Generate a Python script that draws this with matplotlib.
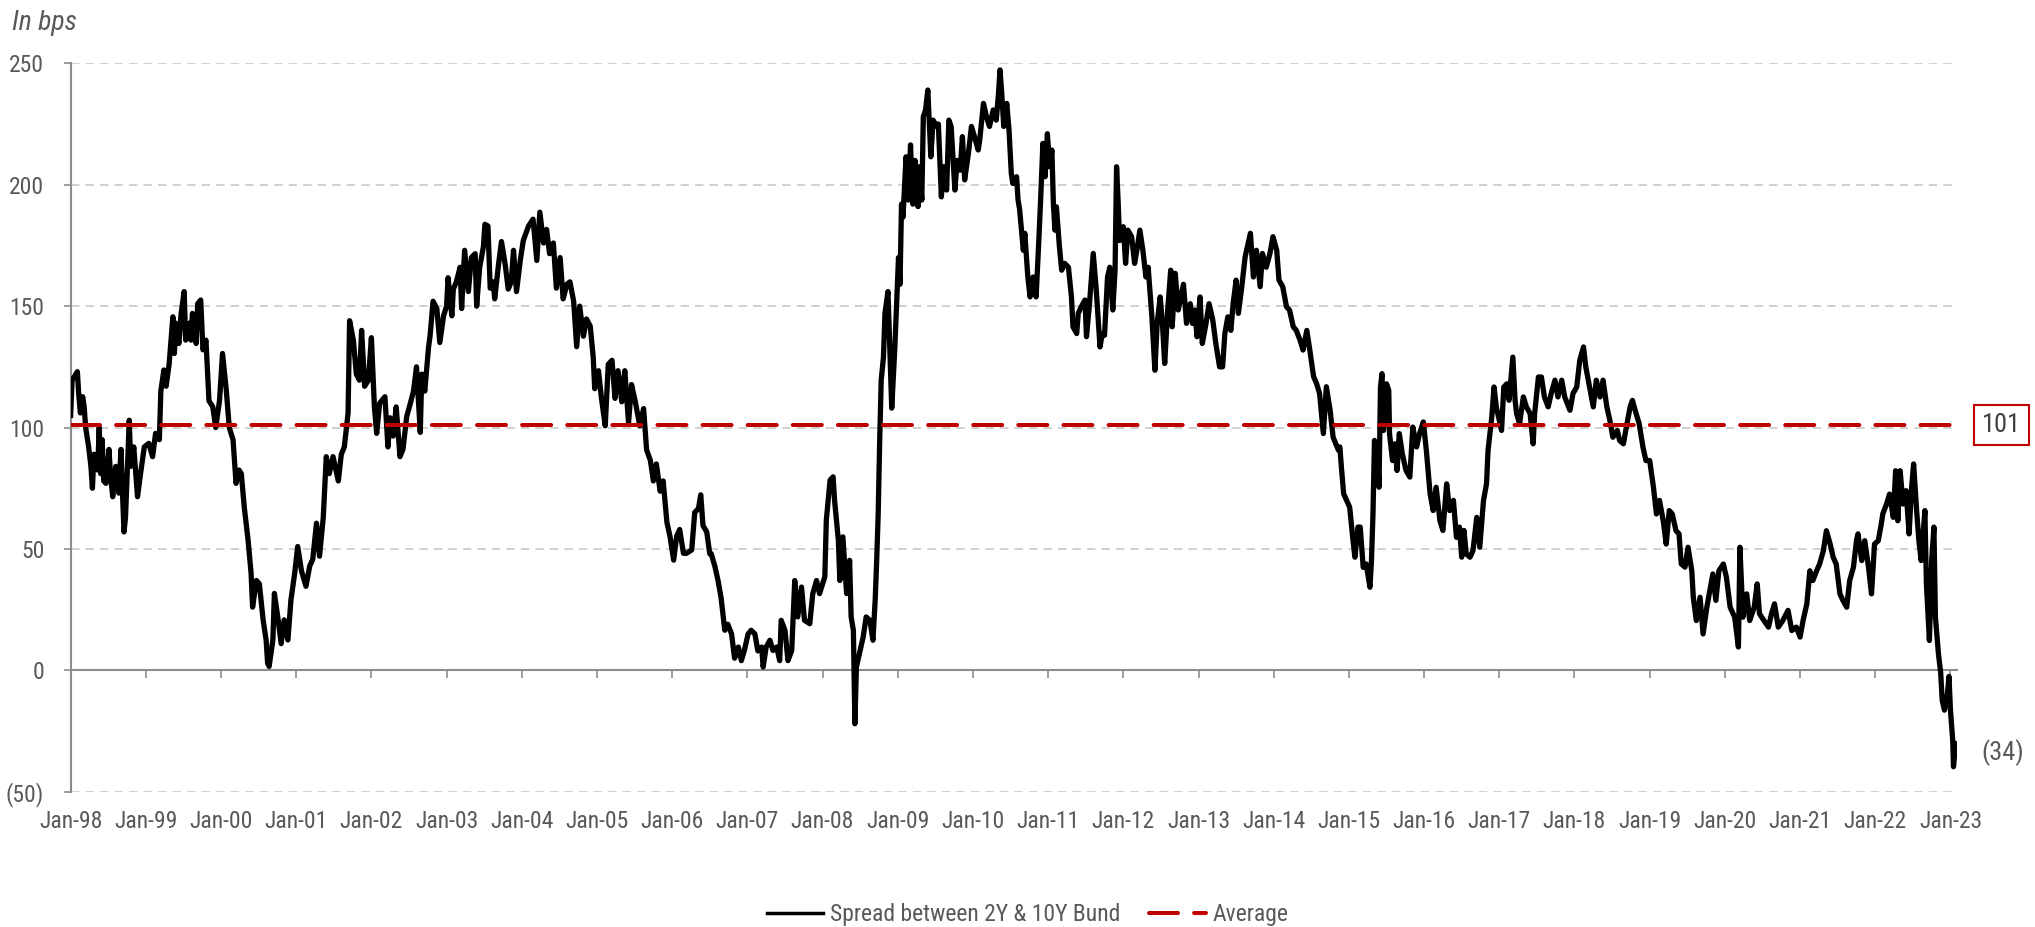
import numpy as np
import matplotlib.pyplot as plt
from matplotlib import font_manager
from matplotlib.lines import Line2D
from matplotlib.ticker import FuncFormatter

# narrow face if one is installed, otherwise a regular sans at a smaller size
font_names = {(f.name, f.stretch) for f in font_manager.fontManager.ttflist}
names = {n for n, s in font_names}
scale = 1.0
stretch = 'normal'
if 'Ubuntu Condensed' in names:
    family = 'Ubuntu Condensed'
elif 'Roboto Condensed' in names:
    family = 'Roboto Condensed'
elif 'Liberation Sans Narrow' in names:
    family = 'Liberation Sans Narrow'
elif ('DejaVu Sans', 'condensed') in font_names or ('DejaVu Sans', 'semi-condensed') in font_names:
    family = 'DejaVu Sans'
    stretch = 'condensed'
    scale = 0.9
else:
    family = 'Roboto'
    scale = 0.82
plt.rcParams['font.family'] = [family, 'DejaVu Sans']
plt.rcParams['font.stretch'] = stretch

# spread 2Y vs 10Y Bund, bps, x in decimal years
years = [
    1998.00, 1998.02, 1998.07, 1998.09, 1998.11, 1998.13, 1998.16, 1998.18, 1998.20, 1998.24,
    1998.27, 1998.29, 1998.31, 1998.36, 1998.38, 1998.40, 1998.42, 1998.44, 1998.47, 1998.51,
    1998.53, 1998.56, 1998.60, 1998.64, 1998.67, 1998.69, 1998.71, 1998.73, 1998.78, 1998.80,
    1998.84, 1998.89, 1998.93, 1998.98, 1999.04, 1999.09, 1999.13, 1999.18, 1999.20, 1999.24,
    1999.27, 1999.31, 1999.36, 1999.38, 1999.40, 1999.44, 1999.47, 1999.51, 1999.53, 1999.58,
    1999.60, 1999.62, 1999.67, 1999.69, 1999.73, 1999.76, 1999.80, 1999.84, 1999.89, 1999.93,
    1999.98, 2000.02, 2000.07, 2000.11, 2000.16, 2000.20, 2000.24, 2000.27, 2000.31, 2000.36,
    2000.40, 2000.42, 2000.47, 2000.51, 2000.56, 2000.60, 2000.62, 2000.64, 2000.69, 2000.71,
    2000.76, 2000.80, 2000.84, 2000.89, 2000.93, 2000.98, 2001.02, 2001.07, 2001.13, 2001.18,
    2001.22, 2001.27, 2001.31, 2001.36, 2001.40, 2001.44, 2001.49, 2001.56, 2001.60, 2001.64,
    2001.69, 2001.71, 2001.76, 2001.80, 2001.84, 2001.87, 2001.91, 2001.96, 2002.00, 2002.04,
    2002.07, 2002.11, 2002.18, 2002.22,
    2002.25, 2002.29, 2002.33, 2002.38, 2002.42, 2002.47, 2002.51, 2002.56, 2002.60, 2002.65,
    2002.67, 2002.71, 2002.76, 2002.78, 2002.82, 2002.87, 2002.91, 2002.96, 2003.00, 2003.02,
    2003.07, 2003.09, 2003.13, 2003.18, 2003.20, 2003.24, 2003.29, 2003.33, 2003.38, 2003.40,
    2003.44, 2003.49, 2003.51, 2003.55, 2003.58, 2003.62, 2003.64, 2003.69, 2003.73, 2003.78,
    2003.82, 2003.86, 2003.89, 2003.93, 2003.98, 2004.02, 2004.09, 2004.15, 2004.20, 2004.24,
    2004.29, 2004.33, 2004.37, 2004.42, 2004.46, 2004.51, 2004.55, 2004.60, 2004.64, 2004.69,
    2004.73, 2004.77, 2004.82, 2004.86, 2004.91, 2004.95, 2004.97, 2005.02, 2005.06, 2005.11,
    2005.15, 2005.20, 2005.24, 2005.28, 2005.33, 2005.37, 2005.42, 2005.46, 2005.51, 2005.57,
    2005.62, 2005.66, 2005.71, 2005.75, 2005.79, 2005.84, 2005.88, 2005.93, 2005.97, 2006.02,
    2006.06, 2006.10, 2006.15, 2006.19, 2006.26, 2006.30, 2006.35, 2006.38, 2006.41, 2006.46,
    2006.50,
    2006.52, 2006.57, 2006.61, 2006.65, 2006.70, 2006.74, 2006.79, 2006.83, 2006.88, 2006.92,
    2006.96, 2007.01, 2007.05, 2007.10, 2007.14, 2007.19, 2007.21, 2007.25, 2007.30, 2007.34,
    2007.39, 2007.43, 2007.45, 2007.50, 2007.54, 2007.59, 2007.63, 2007.67, 2007.72, 2007.76,
    2007.83, 2007.87, 2007.92, 2007.96, 2008.03, 2008.05, 2008.10, 2008.14, 2008.16, 2008.21,
    2008.23, 2008.27, 2008.32, 2008.36, 2008.38, 2008.41, 2008.43, 2008.45, 2008.50, 2008.54,
    2008.58, 2008.63, 2008.67, 2008.70, 2008.72, 2008.74, 2008.76, 2008.78, 2008.81, 2008.83,
    2008.87, 2008.92, 2008.96, 2009.01, 2009.03, 2009.05, 2009.07, 2009.11, 2009.14, 2009.17,
    2009.20, 2009.23, 2009.27, 2009.29, 2009.32, 2009.34, 2009.37, 2009.40, 2009.44, 2009.47,
    2009.52, 2009.54, 2009.58, 2009.61, 2009.65, 2009.68, 2009.71, 2009.76, 2009.79, 2009.83,
    2009.86, 2009.89, 2009.94, 2009.98, 2010.02, 2010.07, 2010.09, 2010.14, 2010.18, 2010.22,
    2010.27, 2010.31, 2010.34, 2010.36, 2010.38, 2010.41, 2010.45, 2010.48, 2010.51, 2010.53,
    2010.58, 2010.60,
    2010.62, 2010.67, 2010.69, 2010.73, 2010.76, 2010.80, 2010.84, 2010.87, 2010.90, 2010.93,
    2010.96, 2010.99, 2011.02, 2011.05, 2011.07, 2011.09, 2011.11, 2011.15, 2011.18, 2011.22,
    2011.27, 2011.31, 2011.33, 2011.38, 2011.40, 2011.44, 2011.49, 2011.51, 2011.55, 2011.60,
    2011.64, 2011.69, 2011.72, 2011.75, 2011.79, 2011.82, 2011.86, 2011.89, 2011.91, 2011.93,
    2011.95, 2012.00, 2012.03, 2012.06, 2012.11, 2012.15, 2012.18, 2012.22, 2012.26, 2012.30,
    2012.33, 2012.38, 2012.42, 2012.45, 2012.49, 2012.52, 2012.55, 2012.59, 2012.63, 2012.65,
    2012.69, 2012.73, 2012.80, 2012.84, 2012.89, 2012.92, 2012.95, 2012.98, 2013.02, 2013.05,
    2013.10, 2013.14, 2013.19, 2013.23, 2013.28, 2013.32, 2013.35, 2013.39, 2013.43, 2013.46,
    2013.50, 2013.53, 2013.57, 2013.62, 2013.66, 2013.69, 2013.73, 2013.77, 2013.82, 2013.85,
    2013.90, 2013.95, 2013.99, 2014.04, 2014.07, 2014.12, 2014.17, 2014.21, 2014.26, 2014.30,
    2014.35, 2014.39, 2014.44, 2014.48, 2014.53, 2014.57, 2014.61, 2014.66, 2014.70, 2014.75,
    2014.79, 2014.86,
    2014.88, 2014.90, 2014.93, 2014.97, 2015.01, 2015.05, 2015.08, 2015.12, 2015.15, 2015.19,
    2015.23, 2015.28, 2015.30, 2015.32, 2015.34, 2015.38, 2015.40, 2015.42, 2015.44, 2015.46,
    2015.50, 2015.53, 2015.54, 2015.58, 2015.61, 2015.64, 2015.67, 2015.71, 2015.76, 2015.81,
    2015.85, 2015.90, 2015.94, 2015.99, 2016.03, 2016.08, 2016.12, 2016.16, 2016.21, 2016.25,
    2016.30, 2016.34, 2016.39, 2016.43, 2016.47, 2016.50, 2016.53, 2016.56, 2016.61, 2016.65,
    2016.70, 2016.74, 2016.79, 2016.83, 2016.85, 2016.90, 2016.93, 2016.96, 2017.00, 2017.03,
    2017.06, 2017.10, 2017.13, 2017.18, 2017.21, 2017.23, 2017.27, 2017.32, 2017.36, 2017.41,
    2017.45, 2017.47, 2017.52, 2017.56, 2017.60, 2017.65, 2017.69, 2017.74, 2017.78, 2017.83,
    2017.87, 2017.94, 2017.98, 2018.03, 2018.07, 2018.12, 2018.15, 2018.20, 2018.25, 2018.29,
    2018.34, 2018.38, 2018.43, 2018.47, 2018.51, 2018.57, 2018.60, 2018.65, 2018.69, 2018.74,
    2018.77, 2018.82, 2018.86, 2018.91, 2018.95, 2019.00, 2019.05, 2019.09,
    2019.13, 2019.18, 2019.22, 2019.26, 2019.30, 2019.35, 2019.39, 2019.42, 2019.47, 2019.51,
    2019.56, 2019.58, 2019.62, 2019.67, 2019.71, 2019.76, 2019.80, 2019.84, 2019.88, 2019.92,
    2019.98, 2020.02, 2020.07, 2020.13, 2020.18, 2020.20, 2020.24, 2020.29, 2020.33, 2020.39,
    2020.43, 2020.46, 2020.52, 2020.58, 2020.62, 2020.66, 2020.71, 2020.77, 2020.84, 2020.89,
    2020.95, 2021.00, 2021.04, 2021.09, 2021.13, 2021.17, 2021.22, 2021.26, 2021.31, 2021.35,
    2021.40, 2021.44, 2021.48, 2021.53, 2021.57, 2021.62, 2021.66, 2021.71, 2021.75, 2021.77,
    2021.82, 2021.86, 2021.91, 2021.95, 2021.99, 2022.04, 2022.08, 2022.10, 2022.15, 2022.19,
    2022.24, 2022.27, 2022.30, 2022.33, 2022.37, 2022.41, 2022.45, 2022.48, 2022.51, 2022.55,
    2022.58, 2022.61, 2022.66, 2022.68, 2022.72, 2022.75, 2022.78, 2022.80, 2022.84, 2022.87,
    2022.89, 2022.92, 2022.96, 2022.98, 2023.00, 2023.03, 2023.04, 2023.07, 2023.09,
]
spread = [
    105, 119.5, 122, 123, 112.7, 106, 112.7, 108.6, 100, 92,
    84, 75, 89, 82.5, 100, 81, 95, 78, 77, 91,
    81, 71.5, 84, 73, 91, 73, 57, 63, 103, 84,
    92, 71.5, 81, 92, 93.5, 88, 97.6, 95, 115, 123.7,
    117, 126, 145.6, 130.5, 143, 134.6, 147, 156, 136, 143,
    136, 147, 134.6, 151, 152.5, 132, 136, 111, 108.6, 100,
    111, 130.5, 115.4, 100, 95, 77, 82.5, 81, 67, 53.7,
    40, 26, 37, 35.6, 20.8, 12.5, 3, 1.6, 12.5, 31.7,
    20.8, 11, 20.8, 12.5, 29, 40, 51, 41, 34.6, 43,
    45.7, 60.6, 47, 63, 88, 81, 88, 78, 89, 92,
    106, 144, 136, 122, 119.5, 140, 117, 119.5, 137, 108.6,
    97.6, 110, 112.7, 92,
    104, 96.5, 108.5, 88, 91, 104.6, 109, 115, 125, 98,
    122, 115, 133, 137.6, 152, 149, 135, 146, 150, 161.7,
    146, 157, 160, 166, 149, 173, 156, 170, 171.6, 150,
    166, 174.5, 183.7, 183, 157.4, 160, 153, 167, 176.6, 167,
    157, 160, 173, 156, 168.8, 177, 183, 185.8, 168.8, 188.7,
    176, 181.6, 171.6, 176, 157.4, 170, 153, 159, 160, 152,
    133.3, 150, 137.6, 144.7, 141.8, 129, 116, 123.4, 112, 100.7,
    126, 127.7, 112, 123.4, 110.6, 123.4, 102, 117.7, 110.6, 100.7,
    107.8, 90.8, 86.5, 78, 85, 73.8, 78, 61, 55.3, 45.4,
    55.3, 58, 48.2, 48.2, 49.6, 65, 66.7, 72.3, 59.6, 57,
    48,
    48, 42.6, 37, 30, 16.5, 19, 15, 5, 9.6, 4,
    8.2, 15, 16.5, 15, 8, 9.6, 1.4, 9.6, 12.4, 8.2,
    9.6, 4, 20.6, 16.5, 4, 8.2, 37, 22, 34.3, 20.6,
    19.2, 31.6, 37, 31.6, 38.5, 61.8, 78.3, 79.7, 70, 53.6,
    37, 55, 31.6, 45.3, 22, 16.5, -22, 1.4, 8.2, 13.7,
    22, 20.6, 12.4, 29, 45.3, 64.6, 94.8, 119.5, 129, 147,
    156, 108, 132, 170, 159, 192, 186.6, 211.5, 193.7, 216.4,
    192, 210, 191, 207.4, 193.7, 228, 230.8, 239, 211.5, 226.6,
    224, 225, 195, 207.4, 197.8, 226.6, 224, 197.8, 210, 206,
    219.8, 202, 213, 224, 219.8, 214.3, 218.4, 233.5, 228, 224,
    230.8, 226.6, 237.6, 247.3, 239, 224, 233.5, 222.5, 204.7, 200.5,
    203.3, 193.7,
    190, 173, 180, 162, 153.8, 162, 153.8, 173, 193.7, 217,
    203.3, 221, 207.4, 214.3, 192, 181.3, 190.9, 174.5, 164.8, 167.6,
    166, 153.8, 141.5, 138.7, 147, 149.7, 152.5, 137.4, 151, 171.7,
    156.6, 133.2, 138.7, 138, 162, 166, 148.4, 164.8, 207.4, 193.7,
    177, 182.7, 167.6, 181.3, 178.6, 167.6, 173, 181.3, 173, 162,
    166, 145.6, 123.6, 142.9, 153.8, 142.9, 126.4, 148.4, 164.8, 141.5,
    163.5, 148.4, 159, 142.9, 151, 142.9, 148.4, 137.4, 153.8, 134.6,
    142.9, 151, 144.2, 134.6, 125, 125, 138.7, 145.6, 140, 151,
    160.7, 147, 156.6, 170.3, 175.8, 180, 162, 173, 158, 171.7,
    166, 171.7, 178.6, 173, 160.7, 158, 149.7, 148.4, 141.5, 140,
    136, 131.9, 140, 131.9, 121, 118.1, 114, 97.5, 116.8, 107.1,
    96, 90.7,
    92, 83.7, 72.7, 70, 67.2, 54.8, 46.6, 59, 59, 42.4,
    43.8, 34.2, 45.2, 64.4, 94.7, 90.5, 75.4, 116.7, 122.2, 98.8,
    118, 115.3, 97.5, 86.4, 93.3, 82.3, 97.5, 89.2, 82.3, 79.6,
    100.2, 92, 97.5, 102.3, 90.5, 72.7, 65.8, 75.4, 61.7, 57.6,
    76.8, 65.8, 70, 54.8, 59, 46.6, 57.6, 48, 46.6, 49.3,
    63, 50.7, 70, 76.8, 90.5, 104.3, 116.7, 108.5, 103, 98.8,
    116.7, 118, 111.2, 129, 111.2, 105.7, 101.6, 112.6, 108.5, 105.7,
    93.3, 105.7, 120.8, 120.8, 112.6, 108.5, 114, 119.5, 112.6, 119.5,
    112.6, 107.1, 114, 116.7, 127.7, 133.2, 125, 116.7, 108.5, 119.5,
    112.6, 119.5, 108.5, 103, 96, 98.8, 94.7, 93.3, 100.2, 108.5,
    111.2, 105.7, 101.6, 92, 86.4, 86.4, 75.4, 64.4,
    70, 61.6, 52, 65.8, 64.4, 57.5, 56.2, 43.8, 42.5, 50.7,
    41, 30.1, 20.5, 30.1, 15, 26, 32.9, 39.7, 28.8, 41,
    43.8, 38.4, 26, 21.9, 9.6, 50.7, 21.9, 31.5, 20.5, 26,
    35.6, 23.3, 20.5, 17.8, 23.3, 27.4, 17.8, 20.5, 24.7, 16.4,
    17.8, 13.7, 20.5, 27.4, 41, 37, 41, 43.8, 49.3, 57.5,
    52, 46.6, 43.8, 31.5, 28.8, 26, 37, 42.5, 53.4, 56.2,
    45.2, 53.4, 42.5, 31.5, 52, 53.4, 60.3, 64.4, 68.5, 72.6,
    63, 82.2, 61.6, 82.2, 68.5, 74, 56.2, 74, 85, 65.8,
    53.4, 45.2, 65.8, 35.6, 12.3, 45.2, 59, 21.9, 6.8, -1,
    -12.3, -16.4, -9.6, -2.5, -16.4, -28.8, -39.7, -30.1, -34,
]
avg_level = 101

tick_years = list(range(1998, 2024))
tick_labels = ['Jan-%02d' % (y % 100) for y in tick_years]
y_ticks = [-50, 0, 50, 100, 150, 200, 250]

txt = '#595959'
axis_gray = '#8C8C8C'
red = '#C00000'
fs = 17 * scale
fs_big = 19 * scale

fig = plt.figure(figsize=(20.35, 9.27), dpi=100)
ax = fig.add_axes([0.0347, 0.1459, 0.9269, 0.7858])

ax.plot(years, spread, color='black', lw=3.8, solid_joinstyle='round', zorder=3)
ax.axhline(avg_level, color=red, lw=2.9, dashes=(7.2, 4.0),
           dash_capstyle='round', zorder=4)

ax.set_xlim(1998.0, 2023.085)
ax.set_ylim(-50, 250)
ax.set_yticks(y_ticks)
ax.yaxis.set_major_formatter(FuncFormatter(
    lambda v, p: '(%d)' % abs(v) if v < 0 else '%d' % v))
ax.set_xticks(tick_years)
ax.set_xticklabels(tick_labels)

ax.grid(axis='y', color='#C4C4C4', lw=1.1, dashes=(5.5, 4.0))
ax.set_axisbelow(True)

for s in ['top', 'right']:
    ax.spines[s].set_visible(False)
ax.spines['left'].set_color(axis_gray)
ax.spines['left'].set_linewidth(1.5)
ax.spines['bottom'].set_position(('data', 0))
ax.spines['bottom'].set_color(axis_gray)
ax.spines['bottom'].set_linewidth(1.5)

ax.tick_params(axis='y', direction='out', length=5, width=1.2, color=axis_gray,
               labelcolor=txt, labelsize=fs, pad=14)
ax.tick_params(axis='x', direction='out', length=5.8, width=1.2, color=axis_gray,
               labelcolor=txt, labelsize=fs, pad=95)

# end-of-series and average labels on the right
ax.annotate('%d' % avg_level, xy=(1, avg_level), xycoords=('axes fraction', 'data'),
            xytext=(18, 0), textcoords='offset points', ha='left', va='center',
            fontsize=fs_big, color='#404040',
            bbox=dict(boxstyle='square,pad=0.3', fc='white', ec=red, lw=1.5))
last = spread[-1]
ax.annotate('(%d)' % abs(round(last)), xy=(1, last), xycoords=('axes fraction', 'data'),
            xytext=(18, 0), textcoords='offset points', ha='left', va='center',
            fontsize=fs_big, color=txt)

fig.text(12 / 2035, 1 - 30 / 927, 'In bps', style='italic', fontsize=20 * scale,
         color=txt, va='baseline', ha='left')

handles = [Line2D([], [], color='black', lw=2.5),
           Line2D([], [], color=red, lw=2.9, dashes=(7.2, 4.0), dash_capstyle='round')]
fig.legend(handles, ['Spread between 2Y & 10Y Bund', 'Average'], loc='center',
           bbox_to_anchor=(0.505, 1 - 915 / 927), ncol=2, frameon=False,
           fontsize=fs, labelcolor=txt, handlelength=2.4 / scale, handletextpad=0.3,
           columnspacing=1.2)

fig.savefig('out.png', dpi=100)
